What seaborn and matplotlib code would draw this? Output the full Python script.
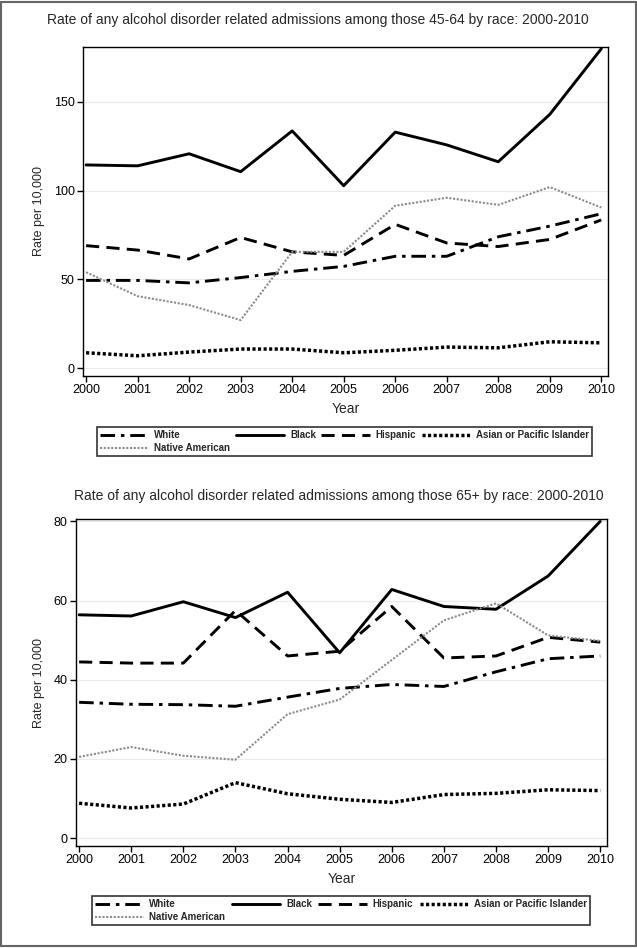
import numpy as np
import pandas as pd
import seaborn as sns
import matplotlib.pyplot as plt
from matplotlib.patches import Rectangle

years = list(range(2000, 2011))
races = ['White', 'Black', 'Hispanic', 'Asian or Pacific Islander', 'Native American']

# ages 45-64
white_4564 = [49.4, 49.4, 48.0, 51.0, 54.5, 57.3, 63.0, 63.0, 74.0, 80.0, 87.0]
black_4564 = [114.5, 114.0, 120.8, 110.7, 133.7, 102.8, 133.0, 125.8, 116.3, 143.0, 180.0]
hisp_4564 = [69.0, 66.5, 61.5, 73.6, 65.5, 63.5, 81.0, 70.5, 68.5, 72.5, 83.5]
asian_4564 = [8.6, 6.9, 9.0, 10.7, 10.7, 8.6, 10.0, 11.8, 11.4, 14.8, 14.2]
native_4564 = [54.0, 40.5, 35.5, 27.0, 65.5, 65.5, 91.5, 96.0, 92.0, 102.0, 90.5]

# ages 65+
white_65 = [34.3, 33.8, 33.7, 33.3, 35.6, 37.8, 38.8, 38.3, 42.0, 45.3, 46.0]
black_65 = [56.4, 56.1, 59.7, 55.7, 62.1, 46.8, 62.8, 58.5, 57.8, 66.2, 80.0]
hisp_65 = [44.5, 44.2, 44.2, 57.5, 46.0, 47.2, 58.5, 45.5, 46.0, 50.7, 49.5]
asian_65 = [8.8, 7.6, 8.6, 14.0, 11.2, 9.8, 9.0, 11.0, 11.3, 12.2, 12.0]
native_65 = [20.5, 23.0, 20.8, 19.8, 31.3, 35.0, 45.0, 55.0, 59.3, 51.2, 49.8]

panels = [
    ('Rate of any alcohol disorder related admissions among those 45-64 by race: 2000-2010',
     [white_4564, black_4564, hisp_4564, asian_4564, native_4564], [0, 50, 100, 150], (-4.5, 181)),
    ('Rate of any alcohol disorder related admissions among those 65+ by race: 2000-2010',
     [white_65, black_65, hisp_65, asian_65, native_65], [0, 20, 40, 60, 80], (-2, 80.6)),
]

styles = {
    'White': dict(color='black', lw=2.1, ls=(0, (5, 2, 1.2, 2))),
    'Black': dict(color='black', lw=2.1, ls='-'),
    'Hispanic': dict(color='black', lw=2.1, ls=(0, (4.5, 2.5))),
    'Asian or Pacific Islander': dict(color='black', lw=2.5, ls=(0, (0.9, 0.7))),
    'Native American': dict(color='#8a8a8a', lw=1.5, ls=(0, (1, 0.8))),
}

sns.set_style('white')
plt.rcParams['font.family'] = ['Liberation Sans', 'DejaVu Sans']

W, H = 637, 948
fig = plt.figure(figsize=(W / 100, H / 100), dpi=100)

# pixel boxes: left, top, right, bottom
ax_boxes = [(83, 47, 608, 376), (76, 519, 607, 846)]
leg_boxes = [(97, 425, 592, 458), (92, 893, 590, 928)]
title_pos = [(318, 20), (339, 496)]

for (title, series, yticks, ylim), (l, t, r, b), (ll, lt, lr, lb), (tx, ty) in zip(panels, ax_boxes, leg_boxes, title_pos):
    ax = fig.add_axes([l / W, 1 - b / H, (r - l) / W, (b - t) / H])
    df = pd.DataFrame({'Year': years * len(races),
                       'Rate': np.concatenate(series),
                       'Race': np.repeat(races, len(years))})
    handles = {}
    for race in races:
        st = styles[race]
        sns.lineplot(data=df[df['Race'] == race], x='Year', y='Rate', ax=ax,
                     color=st['color'], linewidth=st['lw'], linestyle=st['ls'],
                     label=race, legend=False)
        handles[race] = ax.lines[-1]

    ax.set_xlim(1999.94, 2010.13)
    ax.set_ylim(*ylim)
    ax.set_xticks(years)
    ax.set_yticks(yticks)
    ax.tick_params(axis='both', direction='out', length=4, width=1, colors='black',
                   labelsize=9, left=True, bottom=True, pad=2)
    ax.grid(axis='y', color='#ebebeb', lw=0.9)
    ax.set_axisbelow(True)
    for sp in ax.spines.values():
        sp.set_color('black')
        sp.set_linewidth(1)
    ax.set_xlabel('Year', fontsize=10, labelpad=4)
    ax.set_ylabel('Rate per 10,000', fontsize=9, labelpad=6)

    fig.text(tx / W, 1 - ty / H, title, ha='center', va='center', fontsize=10)

    order = ['White', 'Native American', 'Black', 'Hispanic', 'Asian or Pacific Islander']
    leg = fig.legend([handles[k] for k in order], order, ncol=4, mode='expand',
                     bbox_to_anchor=(ll / W, 1 - lb / H, (lr - ll) / W, (lb - lt) / H),
                     bbox_transform=fig.transFigure, loc='center',
                     prop={'size': 7, 'weight': 'bold'}, frameon=True, fancybox=False,
                     edgecolor='black', handlelength=5, handletextpad=0.6,
                     borderpad=0.3, labelspacing=0.3, borderaxespad=0)
    leg.get_frame().set_linewidth(1.2)

fig.patches.append(Rectangle((0.002, 0.002), 0.996, 0.996, transform=fig.transFigure,
                             fill=False, edgecolor='#666666', lw=1.5))

fig.savefig('out.png', dpi=100)
